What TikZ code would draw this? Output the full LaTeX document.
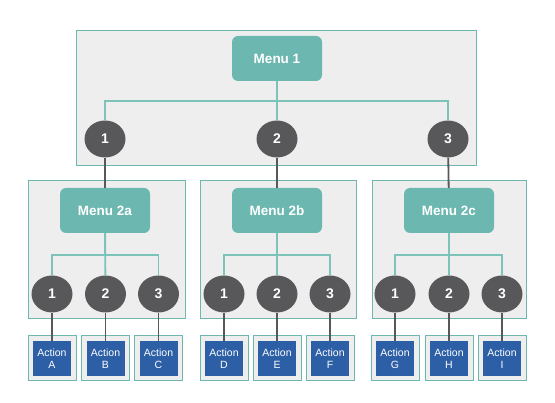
\documentclass[tikz,border=0pt]{standalone}
\usepackage{fontspec}
\setmainfont{Liberation Sans}
\usepackage{tikz}
\usetikzlibrary{calc}
\usetikzlibrary{positioning}
\usetikzlibrary{shapes.geometric}
\definecolor{menuteal}{HTML}{6CB8B1}
\definecolor{lineteal}{HTML}{7CC3BA}
\definecolor{panelgray}{HTML}{EEEEEE}
\definecolor{numgray}{HTML}{58585A}
\definecolor{actblue}{HTML}{2D5FA6}
\tikzstyle{panel} = [draw=menuteal, fill=panelgray, line width=0.9pt]
\tikzstyle{menu} = [fill=menuteal, rounded corners=6, text=white, font=\bfseries\fontsize{13.5}{15}\selectfont, minimum width=90, minimum height=45, inner sep=0]
\tikzstyle{num} = [ellipse, fill=numgray, text=white, font=\bfseries\fontsize{14}{16}\selectfont, minimum width=41, minimum height=37, inner sep=0]
\tikzstyle{slot} = [draw=menuteal, fill=panelgray, line width=0.9pt, minimum width=48, minimum height=45, inner sep=0]
\tikzstyle{act} = [fill=actblue, text=white, align=center, font=\fontsize{10.5}{12.5}\selectfont, minimum width=38, minimum height=35, inner sep=0]
\tikzstyle{tline} = [draw=lineteal, line width=1.8pt]
\tikzstyle{dline} = [draw=numgray, line width=1.8pt]

\begin{document}
\begin{tikzpicture}[x=1pt, y=-1pt]
\useasboundingbox (0,0) rectangle (555,403);
% panels
\draw [panel] (76,30) rectangle (476,165);
\draw [panel] (28,180) rectangle (185,318);
\draw [panel] (200,180) rectangle (356,318);
\draw [panel] (372,180) rectangle (526,318);
% top level
\node [menu] (M1) at (277,58.5) {Menu 1};
\node [num] (T1) at (105,139) {1};
\node [num] (T2) at (277,139) {2};
\node [num] (T3) at (448,139) {3};
% second level
\node [menu] (M2a) at (105,210.5) {Menu 2a};
\node [menu] (M2b) at (277,210.5) {Menu 2b};
\node [menu] (M2c) at (449,210.5) {Menu 2c};
\node [num] (A1) at (52,294) {1};
\node [num] (A2) at (105.5,294) {2};
\node [num] (A3) at (158.5,294) {3};
\node [num] (B1) at (224,294) {1};
\node [num] (B2) at (277,294) {2};
\node [num] (B3) at (330,294) {3};
\node [num] (C1) at (395,294) {1};
\node [num] (C2) at (449,294) {2};
\node [num] (C3) at (502,294) {3};
% actions
\node [slot] (SA) at (52,357.5) {};
\node [slot] (SB) at (105.5,357.5) {};
\node [slot] (SC) at (158.5,357.5) {};
\node [slot] (SD) at (224,357.5) {};
\node [slot] (SE) at (277,357.5) {};
\node [slot] (SF) at (330,357.5) {};
\node [slot] (SG) at (395,357.5) {};
\node [slot] (SH) at (449,357.5) {};
\node [slot] (SI) at (502,357.5) {};
\node [act] (XA) at (52,358.5) {Action\\A};
\node [act] (XB) at (105.5,358.5) {Action\\B};
\node [act] (XC) at (158.5,358.5) {Action\\C};
\node [act] (XD) at (224,358.5) {Action\\D};
\node [act] (XE) at (277,358.5) {Action\\E};
\node [act] (XF) at (330,358.5) {Action\\F};
\node [act] (XG) at (395,358.5) {Action\\G};
\node [act] (XH) at (449,358.5) {Action\\H};
\node [act] (XI) at (502,358.5) {Action\\I};
% menu branches
\draw [tline] (M1.south) -- ++(0,20) -| (T1);
\draw [tline] (M1.south) -- ++(0,20) -| (T3);
\draw [tline] (M1) -- (T2);
\draw [tline] (M2a.south) -- ++(0,22) -| (A1);
\draw [tline] (M2a.south) -- ++(0,22) -| (A3);
\draw [tline] (M2a) -- (A2);
\draw [tline] (M2b.south) -- ++(0,22) -| (B1);
\draw [tline] (M2b.south) -- ++(0,22) -| (B3);
\draw [tline] (M2b) -- (B2);
\draw [tline] (M2c.south) -- ++(0,22) -| (C1);
\draw [tline] (M2c.south) -- ++(0,22) -| (C3);
\draw [tline] (M2c) -- (C2);
% choices
\draw [dline] (T1) -- (M2a);
\draw [dline] (T2) -- (M2b);
\draw [dline] (T3) -- (M2c);
\draw [dline] (A1) -- (XA);
\draw [dline] (A2) -- (XB);
\draw [dline] (A3) -- (XC);
\draw [dline] (B1) -- (XD);
\draw [dline] (B2) -- (XE);
\draw [dline] (B3) -- (XF);
\draw [dline] (C1) -- (XG);
\draw [dline] (C2) -- (XH);
\draw [dline] (C3) -- (XI);
\end{tikzpicture}
\end{document}
